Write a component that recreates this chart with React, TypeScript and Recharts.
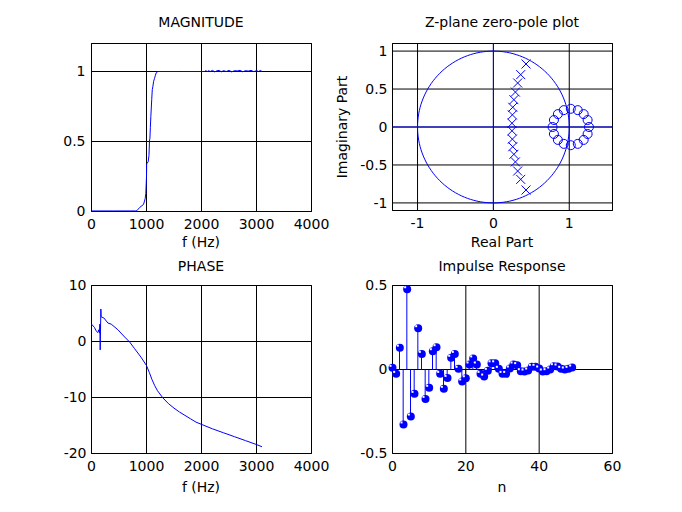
import React from 'react'
import {
  ComposedChart,
  Line,
  Scatter,
  Bar,
  XAxis,
  YAxis,
  CartesianGrid,
  ReferenceArea,
  ReferenceLine,
} from 'recharts'

const BLUE = '#0000ff'
const FONT = '"DejaVu Sans", sans-serif'
const FS = 14

// magnitude response
const magFreq = [0, 400, 800, 824, 880, 945, 975, 988, 995, 1000, 1003, 1030, 1045, 1055, 1062, 1070, 1079, 1095, 1105, 1115, 1130, 1145, 1160, 1176, 1206, 1600, 2000, 2060, 2080, 2100, 2130, 2160, 2200, 2240, 2280, 2320, 2360, 2400, 2450, 2500, 2550, 2600, 2650, 2700, 2750, 2800, 2850, 2900, 2950, 3000, 3040, 3070, 3100]
const magValue = [0.004, 0.004, 0.004, 0.006, 0.03, 0.05, 0.09, 0.13, 0.2, 0.25, 0.34, 0.355, 0.4, 0.51, 0.52, 0.6, 0.68, 0.8, 0.87, 0.89, 0.93, 0.95, 0.97, 0.99, 1.0, 1.0, 1.0, 1.0, 1.008, 0.998, 1.006, 1.0, 1.008, 0.997, 1.005, 1.008, 0.998, 1.006, 1.0, 1.008, 0.997, 1.006, 1.004, 1.008, 0.998, 1.006, 1.003, 1.008, 0.999, 1.006, 1.0, 1.008, 1.0]

// phase response
const phaseFreq = [0, 55, 84, 115, 133, 146, 152, 158, 170, 176, 225, 298, 358, 480, 603, 694, 785, 900, 1000, 1050, 1100, 1150, 1200, 1300, 1400, 1500, 1600, 1700, 1800, 1900, 2000, 2200, 2400, 2600, 2800, 3000, 3100]
const phaseValue = [3.1, 2.5, 1.9, 1.6, 2.1, 1.5, 3.1, -1.5, 5.8, 4.4, 4.2, 3.3, 3.1, 2.1, 0.8, -0.1, -1.3, -2.8, -4.3, -5.5, -6.8, -7.9, -8.8, -10.1, -11.1, -11.9, -12.6, -13.2, -13.8, -14.4, -14.8, -15.6, -16.3, -17.0, -17.7, -18.4, -18.8]

// poles (x) and zeros (o)
const poleRe = [0.43, 0.36, 0.32, 0.29, 0.27, 0.255, 0.25, 0.245, 0.245, 0.25, 0.255, 0.27, 0.29, 0.32, 0.36, 0.43]
const poleIm = [0.83, 0.69, 0.58, 0.46, 0.36, 0.26, 0.16, 0.05, -0.05, -0.16, -0.26, -0.36, -0.46, -0.58, -0.69, -0.83]
const zeroRe = [1.26, 1.242, 1.19, 1.112, 1.02, 0.928, 0.85, 0.798, 0.78, 0.798, 0.85, 0.928, 1.02, 1.112, 1.19, 1.242]
const zeroIm = [0, 0.092, 0.17, 0.222, 0.24, 0.222, 0.17, 0.092, 0, -0.092, -0.17, -0.222, -0.24, -0.222, -0.17, -0.092]

// impulse response h[n], n = 0..49
const impulse = [0.01, -0.026, 0.13, -0.327, 0.478, -0.28, -0.145, 0.246, 0.093, -0.175, -0.109, 0.109, 0.133, -0.026, -0.115, -0.05, 0.07, 0.093, 0.004, -0.071, -0.052, 0.03, 0.066, 0.03, -0.026, -0.042, -0.008, 0.037, 0.037, 0.004, -0.026, -0.026, 0.006, 0.03, 0.026, -0.01, -0.012, -0.006, 0.016, 0.016, 0.006, -0.012, -0.01, 0, 0.02, 0.018, 0.004, 0, 0.004, 0.012]

const freqTicks = [0, 1000, 2000, 3000, 4000]
const magTicks = [0, 0.5, 1]
const phaseTicks = [-20, -10, 0, 10]
const reTicks = [-1, 0, 1]
const imTicks = [-1, -0.5, 0, 0.5, 1]
const nTicks = [0, 20, 40, 60]
const hTicks = [-0.5, 0, 0.5]

const magData = magFreq.map((f, i) => ({ f, m: magValue[i] }))
const phaseData = phaseFreq.map((f, i) => ({ f, p: phaseValue[i] }))
const poles = poleRe.map((x, i) => ({ x, y: poleIm[i] }))
const zeros = zeroRe.map((x, i) => ({ x, y: zeroIm[i] }))
const impulseData = impulse.map((v, n) => ({ n, v }))
// the unit circle reference drawn by zplane
const unitCircle = Array.from({ length: 145 }, (_, i) => {
  const a = (i / 144) * 2 * Math.PI
  return { x: Math.cos(a), y: Math.sin(a) }
})

const tick = { fontSize: FS, fill: '#000', fontFamily: FONT }
const W = 341
const H = 256

function Cross(props: any) {
  const { cx, cy } = props
  const s = 4.5
  return (
    <g stroke={BLUE} strokeWidth={1}>
      <line x1={cx - s} y1={cy - s} x2={cx + s} y2={cy + s} />
      <line x1={cx - s} y1={cy + s} x2={cx + s} y2={cy - s} />
    </g>
  )
}

function Ring(props: any) {
  const { cx, cy } = props
  return <circle cx={cx} cy={cy} r={4.5} fill="none" stroke={BLUE} strokeWidth={1} />
}

function Dot(props: any) {
  const { cx, cy } = props
  return (
    <g>
      <circle cx={cx} cy={cy} r={4} fill={BLUE} />
      <rect x={cx - 3} y={cy - 3} width={2} height={2} fill="#fff" />
    </g>
  )
}

function Nothing() {
  return <g />
}

function Text({ x, y, children, rotate }: { x: number; y: number; children: React.ReactNode; rotate?: boolean }) {
  return (
    <div
      style={{
        position: 'absolute',
        left: x,
        top: y,
        transform: `translate(-50%, -50%)${rotate ? ' rotate(-90deg)' : ''}`,
        fontFamily: FONT,
        fontSize: FS,
        whiteSpace: 'nowrap',
        lineHeight: 1,
        color: '#000',
      }}
    >
      {children}
    </div>
  )
}

function Box({ x, y }: { x: [number, number]; y: [number, number] }) {
  return (
    <ReferenceArea x1={x[0]} x2={x[1]} y1={y[0]} y2={y[1]} fill="none" stroke="#000" strokeWidth={1} fillOpacity={0} />
  )
}

export default function App() {
  return (
    <div style={{ position: 'absolute', left: 0, top: 0, width: 682, height: 512, background: '#fff' }}>
      <div style={{ position: 'absolute', left: 0, top: 0 }}>
        <ComposedChart width={W} height={H} data={magData} margin={{ top: 43.5, right: 29.5, left: 41.5, bottom: 14.5 }}>
          <CartesianGrid stroke="#000" strokeWidth={1} />
          <XAxis type="number" dataKey="f" domain={[0, 4000]} ticks={freqTicks} tick={tick} axisLine={false} tickLine={false} tickSize={0} tickMargin={8} height={30} interval={0} />
          <YAxis type="number" domain={[0, 1.2]} ticks={magTicks} tick={tick} axisLine={false} tickLine={false} tickSize={0} tickMargin={6} width={50} interval={0} />
          <Box x={[0, 4000]} y={[0, 1.2]} />
          <Line dataKey="m" stroke={BLUE} strokeWidth={1} dot={false} isAnimationActive={false} />
        </ComposedChart>
      </div>

      <div style={{ position: 'absolute', left: 341, top: 0 }}>
        <ComposedChart width={W} height={H} margin={{ top: 43.5, right: 69.5, left: 1.5, bottom: 15.5 }}>
          <CartesianGrid stroke="#000" strokeWidth={1} />
          <XAxis type="number" dataKey="x" domain={[-1.33, 1.57]} ticks={reTicks} tick={tick} axisLine={false} tickLine={false} tickSize={0} tickMargin={8} height={30} interval={0} allowDataOverflow />
          <YAxis type="number" dataKey="y" domain={[-1.1, 1.1]} ticks={imTicks} tick={tick} axisLine={false} tickLine={false} tickSize={0} tickMargin={5} width={50} interval={0} allowDataOverflow />
          <Box x={[-1.33, 1.57]} y={[-1.1, 1.1]} />
          <ReferenceLine x={0} stroke={BLUE} strokeWidth={1} />
          <ReferenceLine y={0} stroke={BLUE} strokeWidth={1} />
          <Scatter data={unitCircle} line={{ stroke: BLUE, strokeWidth: 1 }} shape={<Nothing />} isAnimationActive={false} />
          <Scatter data={poles} shape={<Cross />} isAnimationActive={false} />
          <Scatter data={zeros} shape={<Ring />} isAnimationActive={false} />
        </ComposedChart>
      </div>

      <div style={{ position: 'absolute', left: 0, top: 256 }}>
        <ComposedChart width={W} height={H} data={phaseData} margin={{ top: 29.5, right: 29.5, left: 41.5, bottom: 28.5 }}>
          <CartesianGrid stroke="#000" strokeWidth={1} />
          <XAxis type="number" dataKey="f" domain={[0, 4000]} ticks={freqTicks} tick={tick} axisLine={false} tickLine={false} tickSize={0} tickMargin={8} height={30} interval={0} />
          <YAxis type="number" domain={[-20, 10]} ticks={phaseTicks} tick={tick} axisLine={false} tickLine={false} tickSize={0} tickMargin={5} width={50} interval={0} />
          <Box x={[0, 4000]} y={[-20, 10]} />
          <Line dataKey="p" stroke={BLUE} strokeWidth={1} dot={false} isAnimationActive={false} />
        </ComposedChart>
      </div>

      <div style={{ position: 'absolute', left: 341, top: 256 }}>
        <ComposedChart width={W} height={H} data={impulseData} margin={{ top: 29.5, right: 69.5, left: 1.5, bottom: 28.5 }}>
          <CartesianGrid stroke="#000" strokeWidth={1} />
          <XAxis type="number" dataKey="n" domain={[0, 60]} ticks={nTicks} tick={tick} axisLine={false} tickLine={false} tickSize={0} tickMargin={8} height={30} interval={0} />
          <YAxis type="number" domain={[-0.5, 0.5]} ticks={hTicks} tick={tick} axisLine={false} tickLine={false} tickSize={0} tickMargin={5} width={50} interval={0} />
          <Box x={[0, 60]} y={[-0.5, 0.5]} />
          <Bar dataKey="v" fill={BLUE} barSize={1} isAnimationActive={false} />
          <Scatter dataKey="v" shape={<Dot />} isAnimationActive={false} />
        </ComposedChart>
      </div>

      <Text x={201} y={22}>MAGNITUDE</Text>
      <Text x={502} y={22}>Z-plane zero-pole plot</Text>
      <Text x={201} y={266}>PHASE</Text>
      <Text x={502} y={266}>Impulse Response</Text>
      <Text x={201} y={242}>f (Hz)</Text>
      <Text x={502} y={242}>Real Part</Text>
      <Text x={201} y={487}>f (Hz)</Text>
      <Text x={502} y={487}>n</Text>
      <Text x={342} y={127} rotate>Imaginary Part</Text>
    </div>
  )
}
